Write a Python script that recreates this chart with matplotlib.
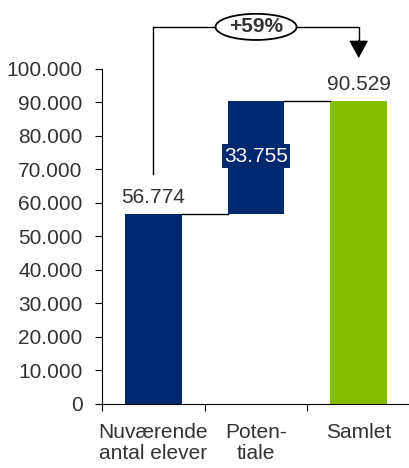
import matplotlib.pyplot as plt
from matplotlib.patches import Ellipse

plt.rcParams['font.family'] = ['Liberation Sans', 'DejaVu Sans']

# Data
categories = ['Nuværende\nantal elever', 'Poten-\ntiale', 'Samlet']
current = 56774
potential = 33755
total = 90529
growth_label = '+59%'
yticks = list(range(0, 100001, 10000))

def fmt(v):
    return f'{v:,}'.replace(',', '.')

blue = '#002870'
green = '#84BC00'
txt = '#333333'
fs = 15

fig = plt.figure(figsize=(4.10, 4.68), dpi=100)
ax = fig.add_axes([0.249, 0.137, 0.751, 0.716])

width = 0.55
xs = [0, 1, 2]
ax.bar(xs[0], current, width, color=blue)
ax.bar(xs[1], potential, width, bottom=current, color=blue)
ax.bar(xs[2], total, width, color=green)

# connector lines
ax.plot([xs[0] + width/2, xs[1] - width/2], [current, current], color='black', lw=1)
ax.plot([xs[1] + width/2, xs[2] - width/2], [total, total], color='black', lw=1)

# value labels
ax.text(xs[0], current + 2000, fmt(current), ha='center', va='bottom', fontsize=fs, color=txt)
ax.text(xs[2], total + 2000, fmt(total), ha='center', va='bottom', fontsize=fs, color=txt)
ax.text(xs[1], current + potential/2 + 300, fmt(potential), ha='center', va='center', fontsize=fs,
        color='white', bbox=dict(boxstyle='square,pad=0.12', fc=blue, ec='none'))

# growth bracket
y_top = 112500
ax.plot([xs[0], xs[0], xs[2], xs[2]], [68500, y_top, y_top, 108000],
        color='black', lw=1, clip_on=False)
ax.annotate('', xy=(xs[2], 103200), xytext=(xs[2], 108500),
            arrowprops=dict(arrowstyle='-|>,head_length=1.1,head_width=0.6',
                            color='black', lw=1, shrinkA=0, shrinkB=0),
            annotation_clip=False)
ell = Ellipse((1.0, y_top), 0.79, 7800, fc='white', ec='black', lw=1.3, clip_on=False, zorder=5)
ax.add_patch(ell)
ax.text(1.0, y_top, growth_label, ha='center', va='center', fontsize=15, fontweight='bold',
        color=txt, zorder=6)

ax.set_xlim(-0.5, 2.5)
ax.set_ylim(0, 100000)
ax.set_yticks(yticks)
ax.set_yticklabels([fmt(v) for v in yticks], fontsize=fs, color=txt)
ax.set_xticks([-0.5, 0.5, 1.5])
ax.set_xticklabels([])
ax.tick_params(axis='x', length=5, direction='out')
ax.tick_params(axis='y', length=5, direction='out', pad=9)
for i, c in enumerate(categories):
    ax.text(xs[i], -5800, c, ha='center', va='top', fontsize=fs, color=txt, linespacing=1.1)
ax.spines['top'].set_visible(False)
ax.spines['right'].set_visible(False)

fig.savefig('out.png', dpi=100)
